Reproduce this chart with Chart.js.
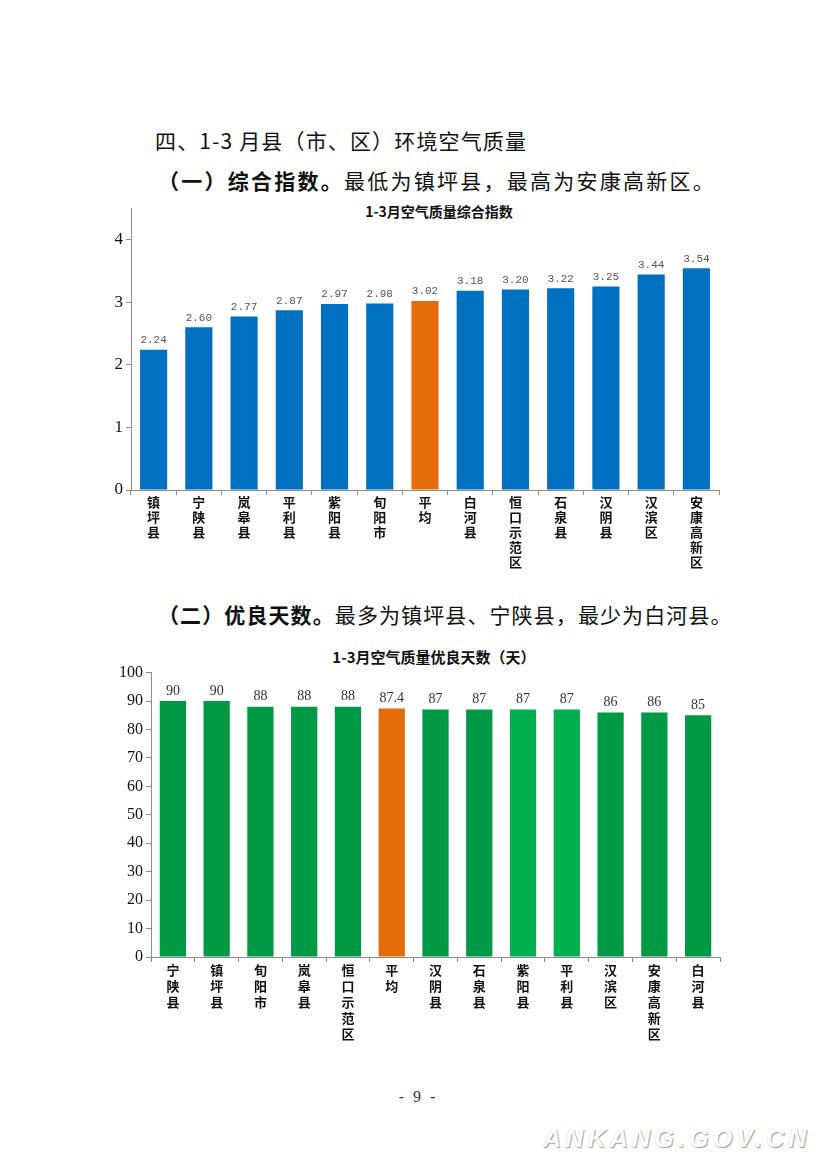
<!DOCTYPE html>
<html><head><meta charset="utf-8">
<script src="https://cdn.jsdelivr.net/npm/chart.js@4.4.1/dist/chart.umd.min.js"></script>
<style>
html,body{margin:0;padding:0;background:#fff;}
body{width:827px;height:1169px;position:relative;overflow:hidden;font-family:"Noto Sans CJK SC",sans-serif;}
.t{position:absolute;white-space:nowrap;color:#111;line-height:1;}
#h1{left:155px;top:130px;font-size:21px;letter-spacing:1.15px;}
#p1{left:158px;top:170px;font-size:21px;letter-spacing:2.25px;}
#p2{left:158px;top:604px;font-size:21px;letter-spacing:1.1px;}
.b{font-weight:bold;}
.ct{position:absolute;text-align:center;font-weight:bold;color:#111;line-height:1;white-space:nowrap;}
#ct1{left:239px;width:400px;top:204px;font-size:14px;}
#ct2{left:234px;width:400px;top:649px;font-size:15px;}
#pg{position:absolute;left:367px;width:100px;text-align:center;top:1088px;font-family:"Liberation Serif",serif;font-size:16px;word-spacing:5px;color:#333;}
#wm{position:absolute;left:543px;top:1124px;font-family:"Liberation Sans",sans-serif;font-weight:bold;font-style:italic;font-size:25px;letter-spacing:4.2px;color:#fff;text-shadow:1px 1px 1px #9a9a9a,-0.5px -0.5px 0 #e0e0e0;}
.cv{position:absolute;}
#c1w{left:100px;top:195px;width:630px;height:390px;}
#c2w{left:100px;top:660px;width:630px;height:390px;}
</style></head><body>
<div class="t" id="h1">四、1-3 月县（市、区）环境空气质量</div>
<div class="t" id="p1"><span class="b">（一）综合指数。</span>最低为镇坪县，最高为安康高新区。</div>
<div class="ct" id="ct1">1-3月空气质量综合指数</div>
<div class="cv" id="c1w"><canvas id="c1"></canvas></div>
<div class="t" id="p2"><span class="b">（二）优良天数。</span>最多为镇坪县、宁陕县，最少为白河县。</div>
<div class="ct" id="ct2">1-3月空气质量优良天数（天）</div>
<div class="cv" id="c2w"><canvas id="c2"></canvas></div>
<div id="pg">- 9 -</div>
<div id="wm">ANKANG.GOV.CN</div>
<script>
// ---- data ----
const indexCategories = ['镇坪县','宁陕县','岚皋县','平利县','紫阳县','旬阳市','平均','白河县','恒口示范区','石泉县','汉阴县','汉滨区','安康高新区'];
const indexValues = [2.24,2.60,2.77,2.87,2.97,2.98,3.02,3.18,3.20,3.22,3.25,3.44,3.54];
const indexTicks = [0,1,2,3,4];

const daysCategories = ['宁陕县','镇坪县','旬阳市','岚皋县','恒口示范区','平均','汉阴县','石泉县','紫阳县','平利县','汉滨区','安康高新区','白河县'];
const daysValues = [90,90,88,88,88,87.4,87,87,87,87,86,86,85];
const daysTicks = [0,10,20,30,40,50,60,70,80,90,100];
const lightGreenCategories = ['紫阳县','平利县'];

// ---- styling ----
const BLUE='#0070C0', ORANGE='#E46C0A', GREEN='#009A46', LGREEN='#00B050';
const AXIS='#8c8c8c';

function makeLabels(font,color,offset,fmt){
  return {
    id:'valueLabels',
    afterDatasetsDraw(chart){
      const ctx=chart.ctx, meta=chart.getDatasetMeta(0), data=chart.data.datasets[0].data;
      ctx.save();
      ctx.font=font; ctx.fillStyle=color; ctx.textAlign='center'; ctx.textBaseline='middle';
      meta.data.forEach((bar,i)=>ctx.fillText(fmt(data[i]),bar.x,bar.y-offset));
      ctx.restore();
    }
  };
}
const vert = s => Array.from(s);

function makeChart(id,cats,vals,colors,ticks,max,cfg){
  return new Chart(document.getElementById(id),{
    type:'bar',
    data:{labels:cats.map(vert),datasets:[{data:vals,backgroundColor:colors,borderWidth:0,barPercentage:0.6,categoryPercentage:1}]},
    options:{
      responsive:true,maintainAspectRatio:false,animation:false,
      layout:{padding:{left:0,right:cfg.padRight,top:cfg.padTop,bottom:0}},
      plugins:{legend:{display:false},tooltip:{enabled:false},title:{display:false}},
      scales:{
        x:{
          grid:{drawOnChartArea:false,drawTicks:true,tickLength:5,color:AXIS,offset:true},
          border:{display:true,color:AXIS,width:1},
          ticks:{autoSkip:false,maxRotation:0,minRotation:0,padding:0,color:'#111',
            font:{family:'"Noto Sans CJK SC"',size:13,weight:'bold',lineHeight:cfg.xLine}},
          afterFit:s=>{s.height=cfg.xHeight;}
        },
        y:{
          min:0,max:max,
          grid:{drawOnChartArea:false,drawTicks:true,tickLength:5,color:AXIS},
          border:{display:true,color:AXIS,width:1},
          ticks:{padding:3,color:'#111',font:{family:'"Liberation Serif"',size:cfg.ySize}},
          afterBuildTicks:s=>{s.ticks=ticks.map(v=>({value:v}));},
          afterFit:s=>{s.width=cfg.yWidth;}
        }
      }
    },
    plugins:[makeLabels(cfg.labelFont,cfg.labelColor,cfg.labelOffset,cfg.fmt)]
  });
}

makeChart('c1',indexCategories,indexValues,
  indexCategories.map(c=>c==='平均'?ORANGE:BLUE),indexTicks,4.5,
  {padRight:11,padTop:10,xHeight:95,yWidth:31,xLine:'15px',ySize:17,
   labelFont:'11px "Liberation Mono"',labelColor:'#555',labelOffset:9.5,fmt:v=>v.toFixed(2)});

makeChart('c2',daysCategories,daysValues,
  daysCategories.map(c=>c==='平均'?ORANGE:(lightGreenCategories.includes(c)?LGREEN:GREEN)),daysTicks,100,
  {padRight:10,padTop:9,xHeight:93,yWidth:51,xLine:'16px',ySize:16,
   labelFont:'14px "Liberation Serif"',labelColor:'#333',labelOffset:10,fmt:v=>String(v)});
</script>
</body></html>
